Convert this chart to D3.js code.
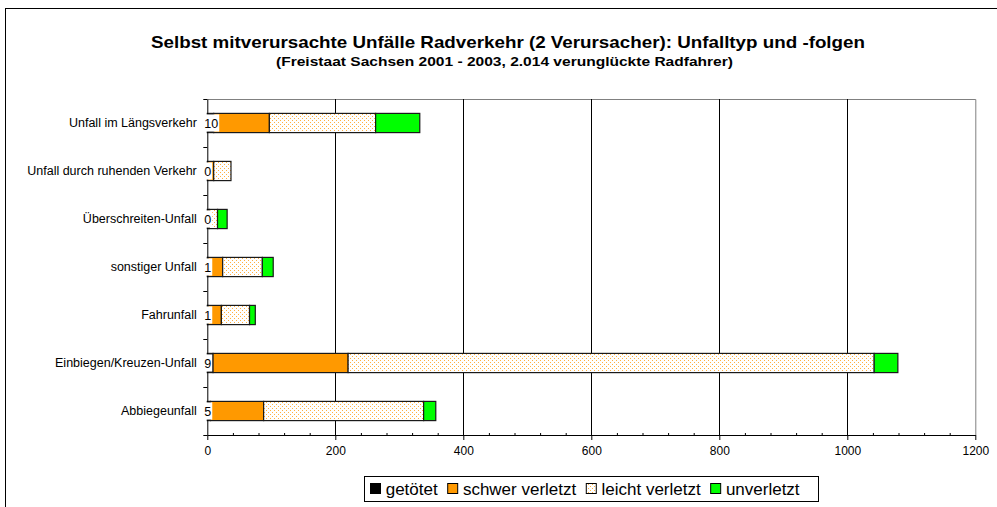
<!DOCTYPE html>
<html>
<head>
<meta charset="utf-8">
<script src="https://cdn.jsdelivr.net/npm/d3@7"></script>
<style>
  body { margin: 0; background: #fff; }
  svg { display: block; font-family: Arial, "Liberation Sans", sans-serif; }
</style>
</head>
<body>
<div id="chart"></div>
<script>
// Unfalltypen (von oben nach unten)
const categories = [
  "Unfall im Längsverkehr",
  "Unfall durch ruhenden Verkehr",
  "Überschreiten-Unfall",
  "sonstiger Unfall",
  "Fahrunfall",
  "Einbiegen/Kreuzen-Unfall",
  "Abbiegeunfall"
];
const seriesNames = ["getötet", "schwer verletzt", "leicht verletzt", "unverletzt"];
const getoetet   = [10, 0, 0, 1, 1, 9, 5];
const schwer     = [87, 10, 3, 23, 21, 211, 83];
const leicht     = [166, 27, 13, 62, 44, 822, 250];
const unverletzt = [69, 0, 15, 17, 9, 37, 19];
const xTicks = [0, 200, 400, 600, 800, 1000, 1200];

const width = 997, height = 507;
const plotLeft = 207.3, plotRight = 975.3, plotTop = 99, plotBottom = 435;

let svg = d3.select("#chart")
            .append("svg")
            .attr("width", width)
            .attr("height", height);

// pattern for "leicht verletzt"
let defs = svg.append("defs");
let pat = defs.append("pattern")
              .attr("id", "dots")
              .attr("patternUnits", "userSpaceOnUse")
              .attr("width", 4).attr("height", 4);
pat.append("rect").attr("width", 4).attr("height", 4).attr("fill", "#fff");
pat.append("rect").attr("x", 0).attr("y", 0).attr("width", 1).attr("height", 1).attr("fill", "#ffb040");
pat.append("rect").attr("x", 2).attr("y", 2).attr("width", 1).attr("height", 1).attr("fill", "#ffb040");

const colors = ["#000000", "#ff9900", "url(#dots)", "#00ff00"];

// outer chart frame
svg.append("rect")
   .attr("x", 5.5).attr("y", 8.5)
   .attr("width", 1100).attr("height", 600)
   .attr("fill", "none").attr("stroke", "#000");

// titles
svg.append("text")
   .attr("x", 151).attr("y", 47.5)
   .attr("textLength", 714).attr("lengthAdjust", "spacingAndGlyphs")
   .style("font-weight", "bold").style("font-size", "17px")
   .text("Selbst mitverursachte Unfälle Radverkehr (2 Verursacher): Unfalltyp und -folgen");
svg.append("text")
   .attr("x", 276).attr("y", 66)
   .attr("textLength", 457).attr("lengthAdjust", "spacingAndGlyphs")
   .style("font-weight", "bold").style("font-size", "13px")
   .text("(Freistaat Sachsen 2001 - 2003, 2.014 verunglückte Radfahrer)");

// scales
let xScale = d3.scaleLinear().domain([0, 1200]).range([plotLeft, plotRight]);
let yScale = d3.scaleBand().domain(categories).range([plotTop, plotBottom])
               .paddingInner(0.6).paddingOuter(0.3);

// plot area border (grey)
svg.append("path")
   .attr("d", `M${plotLeft},${plotTop + 0.5}H${plotRight + 0.5}V${plotBottom}`)
   .attr("fill", "none").attr("stroke", "#808080");

// gridlines
svg.append("g")
   .selectAll("line")
   .data(xTicks.slice(1, -1))
   .enter()
   .append("line")
   .attr("x1", d => Math.round(xScale(d)) + 0.5)
   .attr("x2", d => Math.round(xScale(d)) + 0.5)
   .attr("y1", plotTop).attr("y2", plotBottom)
   .attr("stroke", "#000");

// stacked bars
let table = categories.map((c, i) => ({
  cat: c, "getötet": getoetet[i], "schwer verletzt": schwer[i],
  "leicht verletzt": leicht[i], "unverletzt": unverletzt[i]
}));
let stacked = d3.stack().keys(seriesNames)(table);

svg.append("g")
   .selectAll("g")
   .data(stacked)
   .enter()
   .append("g")
   .attr("fill", (d, i) => colors[i])
   .selectAll("rect")
   .data(d => d.filter(s => s[1] - s[0] > 0))
   .enter()
   .append("rect")
   .attr("x", d => xScale(d[0]))
   .attr("y", d => yScale(d.data.cat))
   .attr("width", d => xScale(d[1]) - xScale(d[0]))
   .attr("height", yScale.bandwidth())
   .attr("stroke", "#1a1a1a")
   .attr("stroke-width", 1.2);

// x axis
let xAxis = d3.axisBottom(xScale)
              .tickValues(xTicks)
              .tickFormat(d3.format("d"))
              .tickSizeInner(5).tickSizeOuter(0).tickPadding(6);
let gx = svg.append("g")
   .attr("transform", `translate(0, ${plotBottom})`)
   .call(xAxis);
gx.attr("font-size", null).attr("font-family", null);
gx.selectAll("text").style("font-size", "12px").attr("fill", "#000");

let minor = d3.range(0, 1201, 40).filter(v => v % 200 !== 0);
svg.append("g")
   .attr("transform", `translate(0, ${plotBottom - 2})`)
   .call(d3.axisBottom(xScale).tickValues(minor).tickSize(3).tickFormat(""))
   .select(".domain").remove();

// y axis: ticks between categories
let yBounds = d3.scaleLinear().domain([0, categories.length]).range([plotTop, plotBottom]);
svg.append("g")
   .attr("transform", `translate(${plotLeft}, 0)`)
   .call(d3.axisLeft(yBounds).tickValues(d3.range(0, categories.length + 1)).tickSize(4).tickSizeOuter(0).tickFormat(""));

// category labels
let gy = svg.append("g")
   .attr("transform", `translate(${plotLeft}, 0)`)
   .call(d3.axisLeft(yScale).tickSize(0).tickPadding(10.5));
gy.attr("font-size", null).attr("font-family", null);
gy.select(".domain").remove();
gy.selectAll("text").style("font-size", "12.5px").attr("fill", "#000");

// data labels for getötet (white box over bar start)
let labels = svg.append("g");
table.forEach(d => {
  let y0 = yScale(d.cat);
  let t = labels.append("text")
     .attr("x", plotLeft - 3)
     .attr("y", y0 + yScale.bandwidth() / 2 + 4.5)
     .style("font-size", "12.5px")
     .text(d["getötet"]);
  let w = t.node().getComputedTextLength();
  labels.insert("rect", "text")
     .attr("x", plotLeft - 4)
     .attr("y", y0 + 1)
     .attr("width", w + 2)
     .attr("height", yScale.bandwidth() - 2)
     .attr("fill", "#fff");
});

// legend
let legend = svg.append("g");
legend.append("rect")
      .attr("x", 364.5).attr("y", 476.5)
      .attr("width", 454).attr("height", 25)
      .attr("fill", "#fff").attr("stroke", "#000");
let lx = 370;
seriesNames.forEach((name, i) => {
  legend.append("rect")
        .attr("x", lx + 0.5).attr("y", 483.5)
        .attr("width", 10).attr("height", 10)
        .attr("fill", colors[i]).attr("stroke", "#000");
  let t = legend.append("text")
        .attr("x", lx + 15.7).attr("y", 495)
        .style("font-size", "17px")
        .text(name);
  lx += 15.7 + t.node().getComputedTextLength() + 9.5;
});
</script>
</body>
</html>
